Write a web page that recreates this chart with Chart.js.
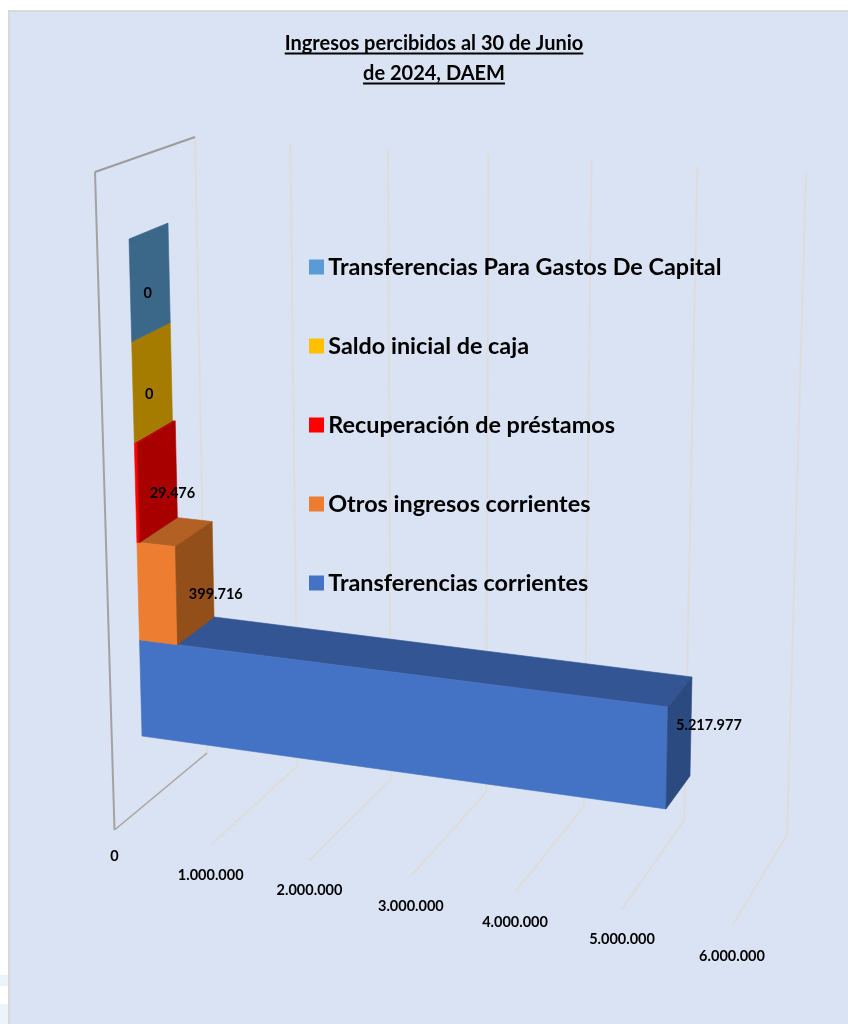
<!DOCTYPE html>
<html>
<head>
<meta charset="utf-8">
<style>
  html, body { margin: 0; padding: 0; background: #fff; }
  canvas { display: block; }
</style>
<script src="https://cdn.jsdelivr.net/npm/chart.js"></script>
</head>
<body>
<canvas id="chart" width="848" height="1024"></canvas>
<script>
const titleLines = ['Ingresos percibidos al 30 de Junio', 'de 2024, DAEM']
const categories = [
  'Transferencias Para Gastos De Capital',
  'Saldo inicial de caja',
  'Recuperación de préstamos',
  'Otros ingresos corrientes',
  'Transferencias corrientes'
]
const ingresos = [0, 0, 29476, 399716, 5217977]
const axisMax = 6000000
const axisStep = 1000000

const frontColors = ['#5b9bd5', '#ffc000', '#ff0000', '#ed7d31', '#4472c4']
const topColors = ['#46749f', '#bf9000', '#bf0000', '#b26024', '#345594']
const sideColors = ['#3b6789', '#a67c00', '#a80000', '#934f1a', '#2b4a80']

// label nudges from the middle of each bar's end face
const labelShiftX = [-2, -3, 15, 21, 30]
const labelShiftY = [11, 12, 12, 12, -17]

const labelFont = 'bold 14.5px Lato'
const dots = v => String(v).replace(/\B(?=(\d{3})+$)/g, '.')

// 8 unknowns of a plane homography, from 4 [u, v, x, y] pairs
function homography(pairs) {
  const m = []
  pairs.forEach(([u, v, x, y]) => {
    m.push([u, v, 1, 0, 0, 0, -u * x, -v * x, x])
    m.push([0, 0, 0, u, v, 1, -u * y, -v * y, y])
  })
  for (let i = 0; i < 8; i++) {
    let p = i
    for (let r = i + 1; r < 8; r++) if (Math.abs(m[r][i]) > Math.abs(m[p][i])) p = r
    ;[m[i], m[p]] = [m[p], m[i]]
    for (let r = 0; r < 8; r++) {
      if (r === i) continue
      const f = m[r][i] / m[i][i]
      for (let c = i; c < 9; c++) m[r][c] -= f * m[i][c]
    }
  }
  const h = m.map((row, i) => row[8] / row[i])
  return (u, v) => {
    const w = h[6] * u + h[7] * v + 1
    return [(h[0] * u + h[1] * v + h[2]) / w, (h[3] * u + h[4] * v + h[5]) / w]
  }
}

// camera: plot-area fractions to the picture, one plane per depth
const wallBack = homography([[0, 0, 195, 137], [1, 0, 806, 173], [0, 1, 207, 753], [1, 1, 787, 835]])
const wallFront = homography([[0, 0, 95, 172], [1, 0, 785, 218], [0, 1, 114.5, 830], [1, 1, 732, 926]])
const barFront = homography([[0, 0, 129, 239], [0, 1, 142, 736], [0.8697, 1, 666, 809], [0.8697, 0.8, 668, 707]])
const barBack = homography([[0, 0, 168, 223], [0.0666, 0.8, 214, 617], [0.8697, 0.8, 692, 677], [0.8697, 1, 690, 776]])

function poly(ctx, pts, color) {
  ctx.beginPath()
  pts.forEach((p, i) => i ? ctx.lineTo(p[0], p[1]) : ctx.moveTo(p[0], p[1]))
  ctx.closePath()
  ctx.fillStyle = color
  ctx.strokeStyle = color
  ctx.lineWidth = 0.6
  ctx.fill()
  ctx.stroke()
}

function line(ctx, pts, color, width) {
  ctx.beginPath()
  pts.forEach((p, i) => i ? ctx.lineTo(p[0], p[1]) : ctx.moveTo(p[0], p[1]))
  ctx.strokeStyle = color
  ctx.lineWidth = width
  ctx.stroke()
}

const perspective = {
  id: 'perspective',
  afterLayout(chart) {
    const size = chart.options.plugins.legend.labels.font.size
    const pad = chart.options.plugins.legend.labels.padding
    chart.legend.left = 316.5 - pad
    chart.legend.top = 267 - size / 2 - pad
  },
  beforeDraw(chart) {
    const { ctx, chartArea: a, scales } = chart
    ctx.save()
    ctx.fillStyle = '#ffffff'
    ctx.fillRect(0, 0, chart.width, chart.height)
    ctx.fillStyle = '#edf3fb'
    ctx.fillRect(0, 975, 8, 11)
    ctx.fillRect(0, 1004, 8, 20)
    ctx.fillStyle = '#d9d9d9'
    ctx.fillRect(8, 10, chart.width - 8, chart.height - 10)
    ctx.fillStyle = '#dae3f3'
    ctx.fillRect(10, 12, chart.width - 10, chart.height - 12)

    // gridlines up the back wall, then out across the floor
    ctx.lineJoin = 'miter'
    scales.x.ticks.forEach(t => {
      const u = (scales.x.getPixelForValue(t.value) - a.left) / a.width
      line(ctx, [wallBack(u, 0), wallBack(u, 1), wallFront(u, 1)], '#dddddb', 2)
      ctx.fillStyle = '#000000'
      ctx.font = labelFont
      ctx.textAlign = 'center'
      ctx.textBaseline = 'middle'
      const f = wallFront(u, 1)
      ctx.fillText(dots(t.value), f[0], f[1] + (t.value ? 30 : 26.5))
    })
    line(ctx, [wallBack(0, 0), wallFront(0, 0)], '#9c9c9a', 2)
    line(ctx, [wallFront(0, 0), wallFront(0, 1)], '#a2a2a0', 2)
    line(ctx, [wallFront(0, 1), wallBack(0, 1)], '#a8a8a6', 1.5)
    ctx.restore()
  },
  afterDatasetsDraw(chart) {
    const { ctx, chartArea: a } = chart
    const bars = chart.getDatasetMeta(0).data
    ctx.save()
    // lowest bar first, each upper one sits on the one below
    for (let i = bars.length - 1; i >= 0; i--) {
      const b = bars[i]
      const u0 = (b.base - a.left) / a.width
      const u1 = (b.x - a.left) / a.width
      const v0 = (b.y - b.height / 2 - a.top) / a.height
      const v1 = (b.y + b.height / 2 - a.top) / a.height
      const ends = [barFront(u1, v0), barBack(u1, v0), barBack(u1, v1), barFront(u1, v1)]
      if (u1 > u0) {
        poly(ctx, [barFront(u0, v0), barBack(u0, v0), barBack(u1, v0), barFront(u1, v0)], topColors[i])
        poly(ctx, [barFront(u0, v0), barFront(u1, v0), barFront(u1, v1), barFront(u0, v1)], frontColors[i])
      }
      poly(ctx, ends, sideColors[i])
    }
    ctx.fillStyle = '#000000'
    ctx.font = labelFont
    ctx.textAlign = 'center'
    ctx.textBaseline = 'middle'
    bars.forEach((b, i) => {
      const u = (b.x - a.left) / a.width
      const v = (b.y - a.top) / a.height
      const p = barFront(u, v)
      const q = barBack(u, v)
      ctx.fillText(dots(ingresos[i]), (p[0] + q[0]) / 2 + labelShiftX[i], (p[1] + q[1]) / 2 + labelShiftY[i])
    })
    ctx.restore()
  },
  afterDraw(chart) {
    // Chart.js has no underlined title
    const { ctx } = chart
    const t = chart.titleBlock
    const font = chart.options.plugins.title.font
    const cx = (t.left + t.right) / 2
    ctx.save()
    ctx.font = `${font.weight} ${font.size}px ${font.family}`
    ctx.fillStyle = '#000000'
    const lh = font.size * font.lineHeight
    titleLines.forEach((s, i) => {
      const w = ctx.measureText(s).width
      ctx.fillRect(cx - w / 2, t.top + t.options.padding.top + lh * (i + 1) - 6.5, w, 2)
    })
    ctx.restore()
  }
}

new Chart(document.getElementById('chart'), {
  type: 'bar',
  data: {
    labels: categories,
    datasets: [{
      label: 'Ingresos',
      data: ingresos,
      backgroundColor: 'transparent',
      borderWidth: 0,
      barPercentage: 1,
      categoryPercentage: 1
    }]
  },
  options: {
    indexAxis: 'y',
    responsive: false,
    animation: false,
    layout: { padding: { left: 20 } },
    scales: {
      x: { display: false, min: 0, max: axisMax, ticks: { stepSize: axisStep } },
      y: { display: false }
    },
    plugins: {
      tooltip: { enabled: false },
      title: {
        display: true,
        text: titleLines,
        color: '#000000',
        font: { family: 'Lato', weight: 'bold', size: 20, lineHeight: 1.5 },
        padding: { top: 29, bottom: 10 }
      },
      legend: {
        position: 'chartArea',
        align: 'start',
        labels: {
          color: '#000000',
          font: { family: 'Lato', weight: 'bold', size: 23.4 },
          padding: 55.6,
          boxWidth: 0.01,
          boxHeight: 15,
          usePointStyle: true,
          generateLabels: () => categories.map((c, i) => ({
            text: c,
            fillStyle: frontColors[i],
            strokeStyle: frontColors[i],
            lineWidth: 0,
            pointStyle: 'rect',
            datasetIndex: 0,
            index: i
          }))
        }
      }
    }
  },
  plugins: [perspective]
})
</script>
</body>
</html>
